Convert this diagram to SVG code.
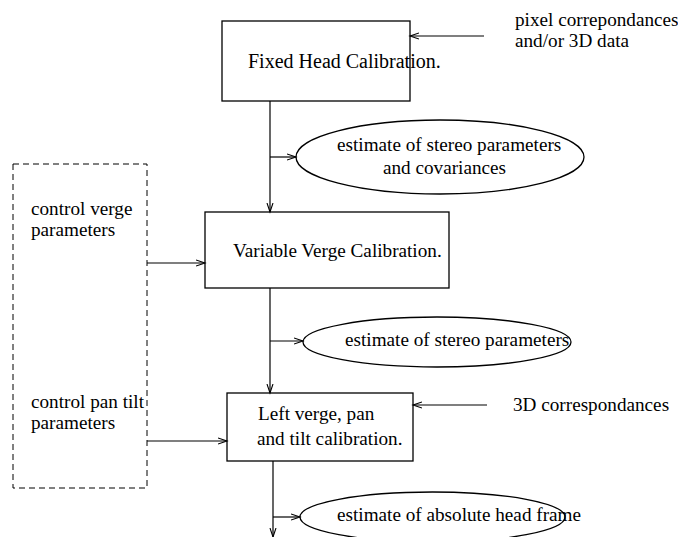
<svg xmlns="http://www.w3.org/2000/svg" width="678" height="537" viewBox="0 0 678 537">
<style>
text{font-family:"Liberation Serif","Times New Roman",serif;font-size:19.2px;fill:#000}
.box{fill:none;stroke:#000;stroke-width:1.3}
.dash{fill:none;stroke:#000;stroke-width:1;stroke-dasharray:6,4}
.ln{fill:none;stroke:#000;stroke-width:1.2;marker-end:url(#ah)}
</style>
<defs>
<marker id="ah" markerUnits="userSpaceOnUse" markerWidth="12" markerHeight="10" refX="9" refY="4" orient="auto" viewBox="0 0 12 10">
<path d="M0,1 L9,4 L0,7" fill="none" stroke="#000" stroke-width="1.1"/>
</marker>
</defs>
<rect width="678" height="537" fill="#fff"/>
<g id="connectors">
<line class="ln" x1="484" y1="36" x2="410" y2="36"/>
<line class="ln" x1="270" y1="101" x2="270" y2="212"/>
<line class="ln" x1="270" y1="157" x2="296" y2="157"/>
<line class="ln" x1="147" y1="263" x2="205" y2="263"/>
<line class="ln" x1="270" y1="288" x2="270" y2="393"/>
<line class="ln" x1="270" y1="341" x2="303" y2="341"/>
<line class="ln" x1="487" y1="405" x2="413" y2="405"/>
<line class="ln" x1="147" y1="441" x2="227" y2="441"/>
<line class="ln" x1="273" y1="461" x2="273" y2="537"/>
<line class="ln" x1="273" y1="517" x2="300" y2="517"/>
</g>
<g id="input-pixel">
<text x="515" y="26">pixel correpondances</text>
<text x="515" y="47">and/or 3D data</text>
</g>
<g id="fixed-head">
<rect class="box" x="222" y="21" width="188" height="80"/>
<text x="248" y="68" style="font-size:20px">Fixed Head Calibration.</text>
</g>
<g id="estimate-cov">
<ellipse class="box" cx="440" cy="157" rx="144" ry="37"/>
<text x="337" y="151">estimate of stereo parameters</text>
<text x="383" y="174">and covariances</text>
</g>
<g id="control">
<rect class="dash" x="13" y="164" width="134" height="324"/>
<text x="31" y="215">control verge</text>
<text x="31" y="236">parameters</text>
<text x="31" y="408">control pan tilt</text>
<text x="31" y="429">parameters</text>
</g>
<g id="variable-verge">
<rect class="box" x="205" y="212" width="244" height="76"/>
<text x="233" y="257">Variable Verge Calibration.</text>
</g>
<g id="estimate-stereo">
<ellipse class="box" cx="437" cy="342" rx="134" ry="25"/>
<text x="345" y="346">estimate of stereo parameters</text>
</g>
<g id="input-3d">
<text x="513" y="411">3D correspondances</text>
</g>
<g id="left-verge">
<rect class="box" x="227" y="393" width="186" height="68"/>
<text x="258" y="420">Left verge, pan</text>
<text x="257" y="445">and tilt calibration.</text>
</g>
<g id="estimate-abs">
<ellipse class="box" cx="432.5" cy="517" rx="132.5" ry="25"/>
<text x="337" y="521">estimate of absolute head frame</text>
</g>
</svg>
